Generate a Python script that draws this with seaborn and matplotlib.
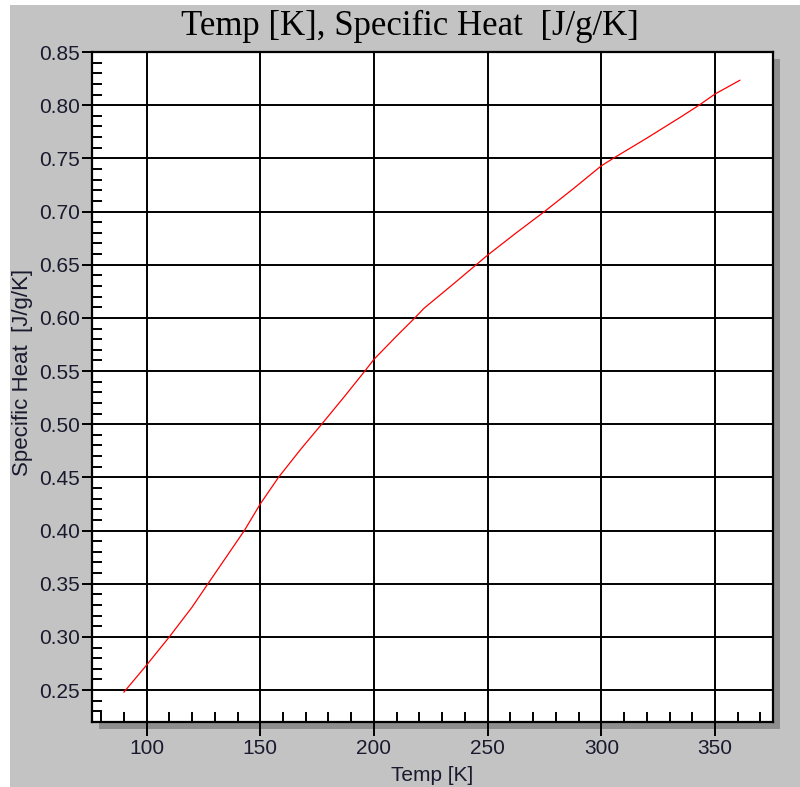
import matplotlib
matplotlib.use("Agg")
import matplotlib.pyplot as plt
from matplotlib.patches import Rectangle
from matplotlib.ticker import MultipleLocator, FormatStrFormatter
import seaborn as sns
import pandas as pd

temp_k = [90, 100, 110, 120, 127, 135, 143, 150, 158, 168, 177, 187, 196, 200,
          210, 218, 222, 235, 245, 250, 262, 275, 288, 300, 306, 320, 335, 343,
          350, 361]
specific_heat = [0.248, 0.2735, 0.300, 0.328, 0.350, 0.375, 0.400, 0.425, 0.450,
                 0.477, 0.500, 0.526, 0.550, 0.561, 0.583, 0.600, 0.609, 0.632,
                 0.650, 0.659, 0.679, 0.700, 0.722, 0.743, 0.751, 0.769, 0.789,
                 0.800, 0.8105, 0.8235]

title_text = "Temp [K], Specific Heat  [J/g/K]"
x_label = "Temp [K]"
y_label = "Specific Heat  [J/g/K]"

df = pd.DataFrame({"Temp": temp_k, "Cp": specific_heat})

sns.set_style("white")
plt.rcParams["font.family"] = ["Liberation Sans", "DejaVu Sans"]

W, H = 800, 787
fig = plt.figure(figsize=(W / 100, H / 100), dpi=100)
fig.patch.set_facecolor("white")

# gray panel background
fig.patches.append(Rectangle((10 / W, 0), 1 - 10 / W, 1 - 5 / H,
                             transform=fig.transFigure, facecolor="#c3c3c3",
                             edgecolor="none", zorder=-2))

l, r, t, b = 92 / W, 773 / W, 1 - 52 / H, 1 - 722 / H
# drop shadow
fig.patches.append(Rectangle((l + 7 / W, b - 7 / H), r - l, t - b,
                             transform=fig.transFigure, facecolor="#8e8e8e",
                             edgecolor="none", zorder=-1))

ax = fig.add_axes([l, b, r - l, t - b])
ax.set_zorder(2)
ax.set_facecolor("white")

sns.lineplot(data=df, x="Temp", y="Cp", ax=ax, color="red", linewidth=0.9,
             zorder=5)

ax.set_xlim(76, 375.5)
ax.set_ylim(0.22, 0.85)

ax.xaxis.set_major_locator(MultipleLocator(50))
ax.xaxis.set_minor_locator(MultipleLocator(10))
ax.yaxis.set_major_locator(MultipleLocator(0.05))
ax.yaxis.set_minor_locator(MultipleLocator(0.01))
ax.yaxis.set_major_formatter(FormatStrFormatter("%.2f"))
ax.xaxis.set_major_formatter(FormatStrFormatter("%d"))

ax.grid(True, which="major", color="black", linewidth=1.4)
ax.set_axisbelow(True)

ax.tick_params(axis="x", which="major", direction="out", length=10, width=1.4,
               labelsize=15, pad=2, colors="black")
ax.tick_params(axis="y", which="major", direction="out", length=7, width=1.4,
               labelsize=15, pad=2, colors="black")
ax.tick_params(axis="both", which="minor", direction="in", length=7, width=1.4,
               colors="black")
ax.tick_params(axis="x", which="major", labelcolor="#1a1a2e")
ax.tick_params(axis="y", which="major", labelcolor="#1a1a2e")
ax.tick_params(bottom=True, left=True, top=False, right=False, which="both")

for s in ax.spines.values():
    s.set_color("black")
    s.set_linewidth(1.6)
    s.set_visible(True)

ax.set_xlabel(x_label, fontsize=15, color="#1a1a2e", labelpad=6)
ax.set_ylabel(y_label, fontsize=16, color="#1a1a2e")
ax.yaxis.set_label_coords((33 - 92) / (773 - 92), (722 - 372) / 670)

fig.text(410 / W, 1 - 26 / H, title_text, ha="center", va="center",
         fontsize=25, family=["Liberation Serif", "DejaVu Serif"],
         color="black")

fig.savefig("out.png", dpi=100, facecolor=fig.get_facecolor())
